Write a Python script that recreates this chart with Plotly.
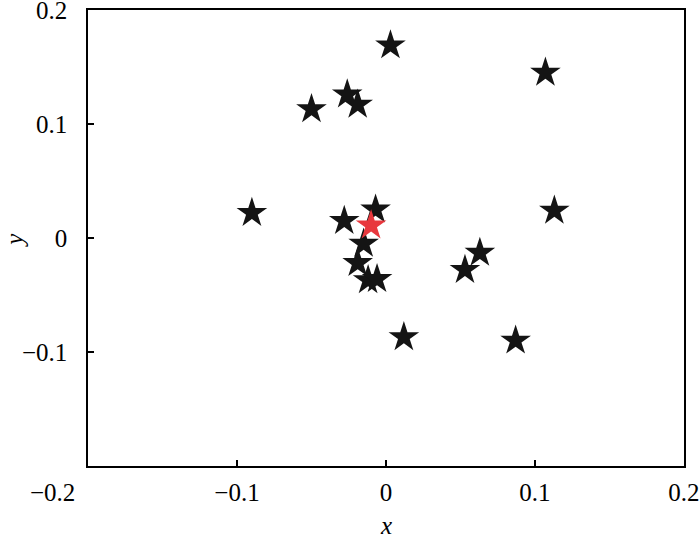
import plotly.graph_objects as go

# star positions
x_black = [0.003, 0.107, -0.050, -0.026, -0.019, -0.090, 0.113, -0.028,
           -0.007, -0.015, -0.019, -0.012, -0.006, 0.053, 0.063, 0.012, 0.087]
y_black = [0.169, 0.145, 0.113, 0.126, 0.117, 0.022, 0.024, 0.015,
           0.025, -0.005, -0.022, -0.037, -0.036, -0.028, -0.013, -0.087, -0.090]
x_red = [-0.010]
y_red = [0.011]

tick_vals = [-0.1, 0, 0.1, 0.2]

font_serif = "Liberation Serif, Times New Roman, serif"
text_font = dict(family=font_serif, size=25, color="black")

fig = go.Figure()

fig.add_trace(go.Scatter(
    x=x_black, y=y_black, mode="markers",
    marker=dict(symbol="star", size=23, color="#141414",
                line=dict(width=0)),
    showlegend=False,
))
fig.add_trace(go.Scatter(
    x=x_red, y=y_red, mode="markers",
    marker=dict(symbol="star", size=23, color="#e8383d",
                line=dict(width=0)),
    showlegend=False,
))

axis_style = dict(
    showgrid=False, zeroline=False, automargin=False,
    showline=True, linecolor="black", linewidth=1.5, mirror=True,
    ticks="inside", ticklen=6, tickwidth=1.5, tickcolor="black",
    tickvals=tick_vals, ticklabeloverflow="allow",
    tickfont=text_font,
)

fig.update_xaxes(range=[-0.2, 0.20001], ticklabelstandoff=3, **axis_style)
fig.update_yaxes(range=[-0.2, 0.20001], ticklabelstandoff=14, **axis_style)

# shared corner label for the -0.2 end of both axes
fig.add_annotation(text="\u22120.2", xref="paper", yref="paper",
                   x=-0.06, y=-0.059, xanchor="center", yanchor="middle",
                   showarrow=False, font=text_font)

# axis titles
fig.add_annotation(text="<i>x</i>", xref="paper", yref="paper",
                   x=0.5, y=-0.13, xanchor="center", yanchor="middle",
                   showarrow=False, font=text_font)
fig.add_annotation(text="<i>y</i>", xref="paper", yref="paper",
                   x=-0.1225, y=0.496, xanchor="center", yanchor="middle",
                   textangle=-90, showarrow=False, font=text_font)

fig.update_layout(
    width=700, height=538,
    margin=dict(l=88, r=16, t=10, b=72),
    plot_bgcolor="white", paper_bgcolor="white",
)

# drop the page's default body margin so the figure sits at the window corner
fig.write_html("out.html", config={"displayModeBar": False},
               post_script="document.body.style.margin='0';")
